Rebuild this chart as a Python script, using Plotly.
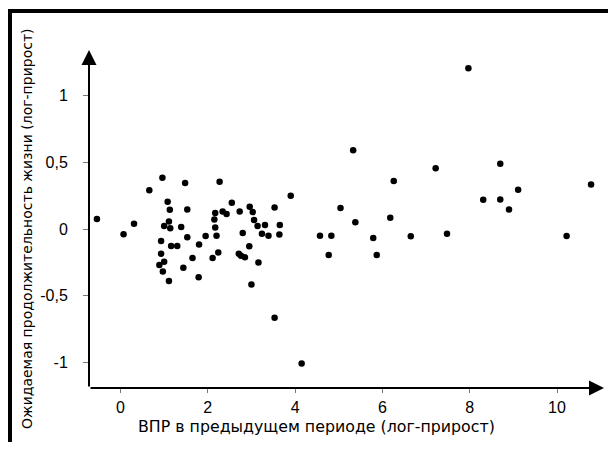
import plotly.graph_objects as go

# Data
gdp_growth = [-0.54, 0.07, 0.31, 0.66, 0.96, 1.08, 1.13, 1.11, 1.00, 1.14,
              0.93, 1.16, 0.93, 1.00, 0.89, 0.97, 1.11, 1.39, 1.30, 1.48,
              1.53, 1.53, 1.44, 1.65, 1.80, 1.79, 1.95, 2.11, 2.15, 2.17,
              2.17, 2.20, 2.24, 2.27, 2.34, 2.43, 2.55, 2.73, 2.71, 2.76,
              2.80, 2.85, 2.96, 3.03, 2.95, 3.00, 3.06, 3.14, 3.16, 3.24,
              3.31, 3.39, 3.53, 3.65, 3.64, 3.53, 3.90, 4.15, 4.57, 4.77,
              4.83, 5.04, 5.33, 5.38, 5.79, 5.87, 6.18, 6.26, 6.65, 7.22,
              7.48, 7.97, 8.31, 8.70, 8.70, 8.90, 9.11, 10.22, 10.78]
life_growth = [0.075, -0.04, 0.04, 0.29, 0.385, 0.205, 0.145, 0.057, 0.022, 0.005,
               -0.09, -0.127, -0.185, -0.245, -0.27, -0.32, -0.39, 0.015, -0.127, 0.345,
               0.147, -0.062, -0.29, -0.217, -0.117, -0.362, -0.052, -0.217, 0.072, 0.012,
               0.12, -0.05, -0.177, 0.355, 0.132, 0.112, 0.197, 0.132, -0.185, -0.2,
               -0.03, -0.212, 0.167, 0.127, -0.13, -0.417, 0.067, 0.022, -0.252, -0.035,
               0.03, -0.05, 0.162, 0.03, -0.042, -0.667, 0.25, -1.009, -0.05, -0.195,
               -0.05, 0.157, 0.592, 0.05, -0.067, -0.195, 0.085, 0.36, -0.055, 0.457,
               -0.035, 1.206, 0.22, 0.49, 0.222, 0.147, 0.295, -0.052, 0.335]

x_ticks = [0, 2, 4, 6, 8, 10]
x_tick_text = ["0", "2", "4", "6", "8", "10"]
y_ticks = [-1, -0.5, 0, 0.5, 1]
y_tick_text = ["-1", "-0,5", "0", "0,5", "1"]

x_title = "ВПР в предыдущем периоде (лог-прирост)"
y_title = "Ожидаемая продолжительность жизни (лог-прирост)"

# Axis geometry (figure pixel coords; page adds an 8px body margin)
W, H = 600, 434
ml, mr, mt, mb = 81, 2, 36, 54
pw, ph = W - ml - mr, H - mt - mb

x_unit, x_zero = 43.65, 112.5   # px per unit, px of x=0
y_unit, y_zero = 133.2, 221.0   # px per unit, px of y=0

x_min = (ml - x_zero) / x_unit
x_max = (W - mr - x_zero) / x_unit
y_min = (y_zero - (H - mb)) / y_unit
y_max = (y_zero - mt) / y_unit
x_tip = (596 - x_zero) / x_unit
y_tip = (y_zero - 42) / y_unit


def px(p):
    return (p - ml) / pw


def py(p):
    return (H - mb - p) / ph


fig = go.Figure()
fig.add_trace(go.Scatter(
    x=gdp_growth, y=life_growth, mode="markers",
    marker=dict(size=6.5, color="black", line=dict(width=0)),
    cliponaxis=False, hoverinfo="skip", showlegend=False,
))

tick_font = dict(family="Liberation Sans, Arial, sans-serif", size=16, color="black")
x_title_font = dict(family="DejaVu Sans, Verdana, sans-serif", size=15.8, color="black")
y_title_font = dict(family="DejaVu Sans, Verdana, sans-serif", size=14, color="black")

fig.update_xaxes(range=[x_min, x_max], tickvals=x_ticks, ticktext=x_tick_text,
                 showgrid=False, zeroline=False, showline=False,
                 ticks="outside", ticklen=4, tickwidth=1, tickcolor="#777",
                 tickfont=tick_font, ticklabelstandoff=1)
fig.update_yaxes(range=[y_min, y_max], tickvals=y_ticks, ticktext=y_tick_text,
                 showgrid=False, zeroline=False, showline=False,
                 ticks="outside", ticklen=5, tickwidth=1, tickcolor="#777",
                 tickfont=tick_font, ticklabelstandoff=12)

annotations = [
    # x axis arrow
    dict(x=x_tip, y=y_min, ax=x_min, ay=y_min, xref="x", yref="y",
         axref="x", ayref="y", text="", showarrow=True, arrowhead=2,
         arrowsize=1.5, arrowwidth=2, arrowcolor="black", standoff=0),
    # y axis arrow
    dict(x=x_min, y=y_tip, ax=x_min, ay=y_min, xref="x", yref="y",
         axref="x", ayref="y", text="", showarrow=True, arrowhead=2,
         arrowsize=1.5, arrowwidth=2, arrowcolor="black", standoff=0),
    dict(x=px(308), y=py(418), xref="paper", yref="paper", text=x_title,
         showarrow=False, xanchor="center", yanchor="middle", font=x_title_font),
    dict(x=px(19), y=py(221), xref="paper", yref="paper", text=y_title,
         showarrow=False, xanchor="center", yanchor="middle", textangle=-90,
         font=y_title_font),
]

# frame: only its top and left edges fall inside the picture
shapes = [
    dict(type="rect", xref="paper", yref="paper", x0=px(2), x1=px(900),
         y0=py(900), y1=py(3), line=dict(color="black", width=4),
         fillcolor="rgba(0,0,0,0)", layer="above"),
]

fig.update_layout(
    width=W, height=H,
    margin=dict(l=ml, r=mr, t=mt, b=mb, pad=0),
    paper_bgcolor="white", plot_bgcolor="white",
    annotations=annotations, shapes=shapes,
    showlegend=False,
)

fig.write_html("out.html")
